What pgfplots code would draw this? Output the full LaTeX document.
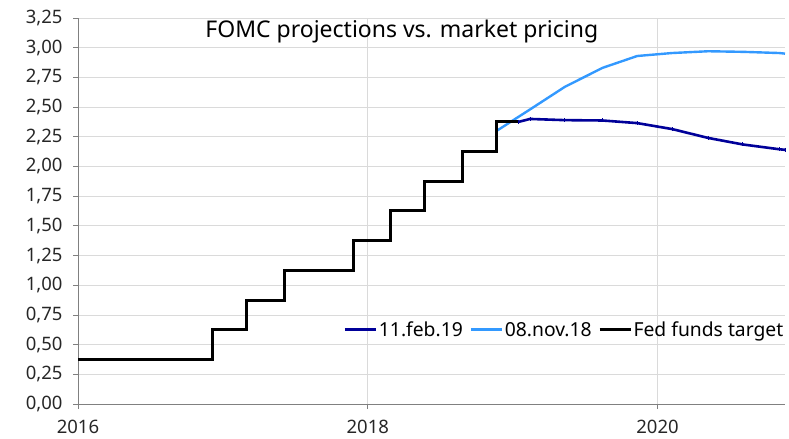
\documentclass[border=0pt]{standalone}
\usepackage{pgfplots}
\pgfplotsset{compat=1.18}
\usepackage{fontspec}
\setmainfont{Noto Sans}
\definecolor{navy}{HTML}{000099}
\definecolor{lblue}{HTML}{3399FF}
\definecolor{gridc}{HTML}{DADADA}
\definecolor{axc}{HTML}{808080}
\begin{document}
\begin{tikzpicture}
\begin{axis}[
  scale only axis, width=707pt, height=386pt,
  xmin=2016, xmax=2020.88, ymin=0, ymax=3.25,
  axis x line*=bottom, axis y line*=left,
  axis line style={draw=axc, line width=0.8pt, -},
  xtick={2016,2018,2020}, xticklabels={2016,2018,2020},
  ytick={0,0.25,0.5,0.75,1,1.25,1.5,1.75,2,2.25,2.5,2.75,3,3.25},
  yticklabel style={xshift=-7pt, /pgf/number format/.cd, fixed, fixed zerofill, precision=2, use comma},
  xticklabel style={yshift=-8pt},
  /pgf/number format/assume math mode=true,
  tick label style={font=\fontsize{18.5}{22}\selectfont, text=black!85},
  tick align=outside, major tick length=5pt,
  tick style={draw=axc, line width=0.8pt},
  xmajorgrids, ymajorgrids,
  grid style={draw=gridc, line width=0.8pt},
  legend style={draw=none, fill=none, at={(1,0.192)}, anchor=east,
    font=\fontsize{19.3}{22}\selectfont, inner sep=0pt,
    nodes={inner sep=1.5pt},
    /tikz/every even column/.append style={column sep=5pt}},
  legend columns=3,
  legend image code/.code={\draw[#1, mark=none, line width=3pt] (0pt,0pt) -- (31pt,0pt);},
  clip=false,
]
\addplot[navy, line width=2.6pt, mark=|, mark size=2pt, mark options={line width=1pt}] coordinates {
(2019.04,2.375)(2019.12,2.40)(2019.36,2.39)(2019.62,2.387)(2019.86,2.365)
(2020.10,2.315)(2020.35,2.24)(2020.59,2.185)(2020.84,2.145)(2020.88,2.14)};
\addlegendentry{11.feb.19}
\addplot[lblue, line width=2.4pt] coordinates {
(2018.89,2.30)(2019.12,2.48)(2019.36,2.67)(2019.62,2.83)(2019.86,2.93)
(2020.10,2.955)(2020.35,2.97)(2020.59,2.965)(2020.84,2.955)(2020.88,2.95)};
\addlegendentry{08.nov.18}
\addplot[black, line width=3pt, const plot] coordinates {
(2016.0,0.375)(2016.926,0.625)(2017.165,0.875)(2017.423,1.125)(2017.899,1.375)
(2018.154,1.625)(2018.395,1.875)(2018.657,2.125)(2018.889,2.375)(2019.036,2.375)};
\addlegendentry{Fed funds target}
\node[anchor=base, font=\fontsize{23}{26}\selectfont] at (rel axis cs:0.458,0.950) {FOMC projections vs. market pricing};
\coordinate (SW) at (rel axis cs:0,0);
\coordinate (NE) at (rel axis cs:1,1);
\end{axis}
\pgfresetboundingbox
\path[use as bounding box] ([xshift=-78pt,yshift=-35pt]SW) rectangle ([xshift=4pt,yshift=18pt]NE);
\end{tikzpicture}
\end{document}
